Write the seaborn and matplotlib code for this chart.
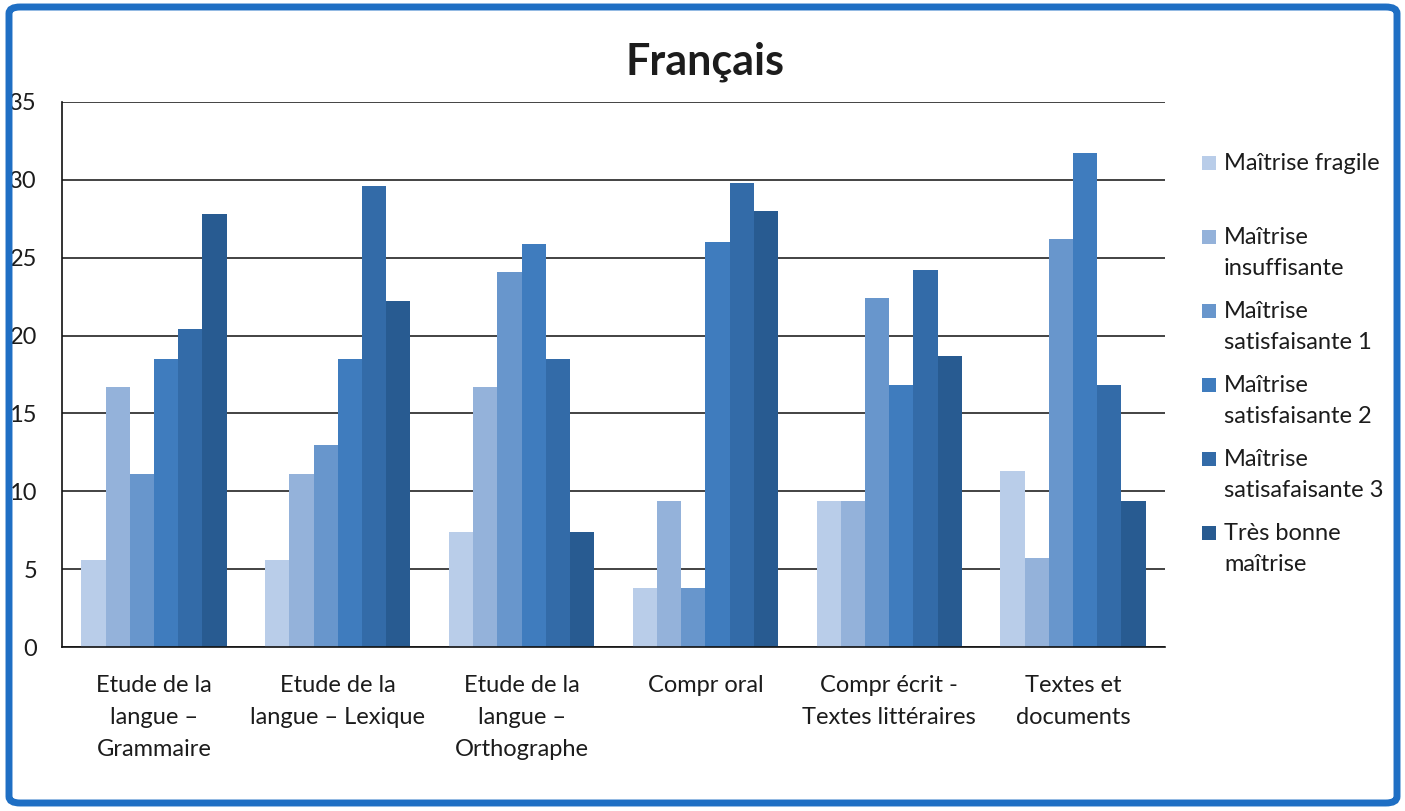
import numpy as np
import pandas as pd
import seaborn as sns
import matplotlib.pyplot as plt
from matplotlib.patches import FancyBboxPatch, Rectangle

# %%
categories = ['Etude de la\nlangue –\nGrammaire', 'Etude de la\nlangue – Lexique',
              'Etude de la\nlangue –\nOrthographe', 'Compr oral',
              'Compr écrit -\nTextes littéraires', 'Textes et\ndocuments']
levels = ['Maîtrise fragile', 'Maîtrise\ninsuffisante', 'Maîtrise\nsatisfaisante 1',
          'Maîtrise\nsatisfaisante 2', 'Maîtrise\nsatisafaisante 3', 'Très bonne\nmaîtrise']
fragile = [5.6, 5.6, 7.4, 3.8, 9.4, 11.3]
insuffisante = [16.7, 11.1, 16.7, 9.4, 9.4, 5.7]
satisfaisante_1 = [11.1, 13.0, 24.1, 3.8, 22.4, 26.2]
satisfaisante_2 = [18.5, 18.5, 25.9, 26.0, 16.8, 31.7]
satisfaisante_3 = [20.4, 29.6, 18.5, 29.8, 24.2, 16.8]
tres_bonne = [27.8, 22.2, 7.4, 28.0, 18.7, 9.4]
yticks = [0, 5, 10, 15, 20, 25, 30, 35]

colors = ['#b9cde9', '#94b2da', '#6896cc', '#3f7cbe', '#336ba8', '#285b91']
text_color = '#1c1c1c'

# %%
series = [fragile, insuffisante, satisfaisante_1, satisfaisante_2, satisfaisante_3, tres_bonne]
df = pd.DataFrame({
    'cat': np.repeat([categories], len(levels), axis=0).ravel(),
    'level': np.repeat(levels, len(categories)),
    'val': np.concatenate(series),
})

# %%
sns.set_style('white')
plt.rcParams['font.family'] = ['Lato', 'DejaVu Sans']

W, H = 1405, 811
fig = plt.figure(figsize=(W / 100, H / 100), dpi=100)
ax = fig.add_axes([62 / W, 1 - 647 / H, (1165 - 62) / W, (647 - 102) / H])

sns.barplot(data=df, x='cat', y='val', hue='level', order=categories, hue_order=levels,
            palette=colors, saturation=1, width=0.79, gap=0, linewidth=0,
            ax=ax, legend=False)

ax.set_xlim(-0.5, len(categories) - 0.5)
ax.set_ylim(0, 35)
ax.set_yticks(yticks)
ax.set_xlabel('')
ax.set_ylabel('')
ax.yaxis.grid(True, color='#222222', linewidth=1.2)
ax.set_axisbelow(True)
for s in ['top', 'right']:
    ax.spines[s].set_visible(False)
for s in ['left', 'bottom']:
    ax.spines[s].set_color('#111111')
    ax.spines[s].set_linewidth(1.2)

ax.set_xticks(np.arange(-0.5, len(categories), 1), minor=True)
ax.tick_params(axis='x', which='major', length=0, pad=20, labelsize=17, colors=text_color)
ax.tick_params(axis='x', which='minor', length=6, width=1.2, direction='out', color='#111111')
ax.tick_params(axis='y', length=5, width=1.2, direction='out', pad=13, labelsize=17,
               colors=text_color, color='#111111')
for lab in ax.get_xticklabels():
    lab.set_linespacing(1.65)

# legend: square swatch next to the first line of each entry
line_gap = 31
for i, (lev, col) in enumerate(zip(levels, colors)):
    base = 170 + 74 * i
    last = base + line_gap * lev.count('\n')
    fig.patches.append(Rectangle((1202 / W, 1 - base / H), 14 / W, 14 / H,
                                 transform=fig.transFigure, facecolor=col, edgecolor='none'))
    fig.text(1224 / W, 1 - last / H, lev, ha='left', va='baseline', fontsize=17,
             color=text_color, linespacing=1.6)

fig.text(705 / W, 1 - 62 / H, 'Français', ha='center', va='center',
         fontsize=31, fontweight='bold', color=text_color)

# blue frame around the chart
frame = FancyBboxPatch((9 / W, 8 / H), 1388 / W, 796 / H,
                       boxstyle='round,pad=0,rounding_size=0.008',
                       transform=fig.transFigure, fill=False,
                       edgecolor='#1f6fc4', linewidth=5)
fig.patches.append(frame)

fig.savefig('out.png', dpi=100)
